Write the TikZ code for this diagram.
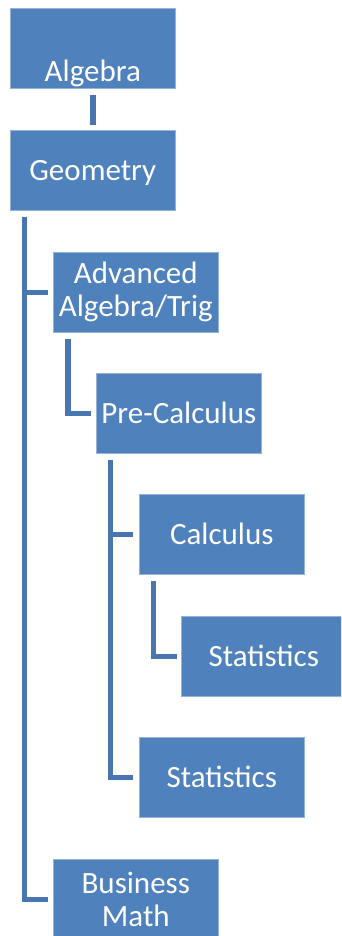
\documentclass[tikz,border=0pt]{standalone}
\usepackage{fontspec}
\setmainfont{Carlito}
\usetikzlibrary{calc}
\definecolor{boxfill}{HTML}{4F81BD}
\definecolor{linecol}{HTML}{4975B0}
\begin{document}
\begin{tikzpicture}[x=1pt,y=-1pt,
  box/.style={anchor=north west, fill=boxfill, draw=boxfill!60!white, line width=0.6pt,
    minimum width=165pt, minimum height=80pt, inner sep=0pt, text=white,
    font=\fontsize{31}{33}\selectfont, align=center},
  one/.style={text height=20pt, text depth=0pt},
  conn/.style={draw=linecol, line width=5.5pt}]
\useasboundingbox (0,0) rectangle (341,936);
\clip (0,0) rectangle (341,936);
\node[box] (alg) at (10,8) {};
\node[anchor=base, text=white, font=\fontsize{31}{33}\selectfont, inner sep=0pt] (algt) at ($(alg.south)+(0,-7)$) {Algebra};
\node[box,one] (geo) at (10,130) {Geometry};
\node[box] (adv) at (53,252) {Advanced\\Algebra/Trig};
\node[box,one] (pre) at (96,373) {Pre-Calculus};
\node[box,one] (calc) at (139,494) {Calculus};
\node[box,one] (stat1) at (181,616) {Statistics};
\node[box,one] (stat2) at (139,737) {Statistics};
\node[box] (bus) at (53,859) {Business\\Math};

\draw[conn, shorten <=6pt, shorten >=5pt] (alg.south) -- (geo.north);
\coordinate (g0) at ($(geo.south west)+(14.5,6)$);
\draw[conn] (g0) |- ($(adv.west)+(-5,0)$);
\draw[conn] (g0) |- ($(bus.west)+(-5,0)$);
\coordinate (a0) at ($(adv.south west)+(15,6)$);
\draw[conn] (a0) |- ($(pre.west)+(-5,0)$);
\coordinate (p0) at ($(pre.south west)+(14.5,6)$);
\draw[conn] (p0) |- ($(calc.west)+(-6,0)$);
\draw[conn] (p0) |- ($(stat2.west)+(-6,0)$);
\coordinate (c0) at ($(calc.south west)+(14.5,6)$);
\draw[conn] (c0) |- ($(stat1.west)+(-4,0)$);
\end{tikzpicture}
\end{document}
